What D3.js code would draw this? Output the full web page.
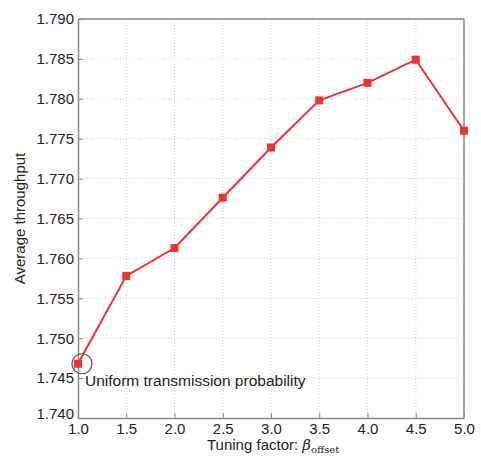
<!DOCTYPE html>
<html>
<head>
<meta charset="utf-8">
<script src="https://cdn.jsdelivr.net/npm/d3@7"></script>
<style>
body { margin: 0; background: #fff; }
svg text { font-family: "Liberation Sans", Arial, sans-serif; fill: #222; }
</style>
</head>
<body>
<svg id="chart" width="481" height="457"></svg>
<script>
var xValues = [1.0, 1.5, 2.0, 2.5, 3.0, 3.5, 4.0, 4.5, 5.0];
var throughput = [1.7468, 1.7578, 1.7613, 1.7676, 1.7739, 1.7798, 1.7820, 1.7849, 1.7760];
var xTicks = [1.0, 1.5, 2.0, 2.5, 3.0, 3.5, 4.0, 4.5, 5.0];
var yTicks = [1.740, 1.745, 1.750, 1.755, 1.760, 1.765, 1.770, 1.775, 1.780, 1.785, 1.790];
var annotation = "Uniform transmission probability";

var svg = d3.select("#chart"),
	margin = {top: 19, right: 17, bottom: 39, left: 78},
	width = 481 - margin.left - margin.right,
	height = 457 - margin.top - margin.bottom,
	g = svg.append("g").attr("transform", "translate(" + margin.left + "," + margin.top + ")");

var x = d3.scaleLinear().domain([1, 5]).range([0, width]),
	y = d3.scaleLinear().domain([1.74, 1.79]).range([height, 0]);

// grid
g.append("g").selectAll("line").data(xTicks.slice(1, -1)).enter().append("line")
	.attr("x1", function(d) { return x(d); }).attr("x2", function(d) { return x(d); })
	.attr("y1", 0).attr("y2", height)
	.attr("stroke", "#ccc").attr("stroke-dasharray", "1,2");
g.append("g").selectAll("line").data(yTicks.slice(1, -1)).enter().append("line")
	.attr("y1", function(d) { return y(d); }).attr("y2", function(d) { return y(d); })
	.attr("x1", 0).attr("x2", width)
	.attr("stroke", "#ccc").attr("stroke-dasharray", "1,2");

// axes
var xAxis = g.append("g")
	.attr("transform", "translate(0," + height + ")")
	.call(d3.axisBottom(x).tickValues(xTicks).tickFormat(d3.format(".1f")).tickSizeInner(-5).tickSizeOuter(0).tickPadding(4));
var yAxis = g.append("g")
	.call(d3.axisLeft(y).tickValues(yTicks).tickFormat(d3.format(".3f")).tickSizeInner(-5).tickSizeOuter(0).tickPadding(4));
[xAxis, yAxis].forEach(function(a) {
	a.select(".domain").attr("stroke", "#888").attr("stroke-width", 1.5);
	a.selectAll(".tick line").attr("stroke", "#888");
	a.selectAll(".tick text").style("font-size", "15px").attr("fill", "#222");
});
xAxis.selectAll(".tick text").attr("dy", "0.8em");
// lowest y label sits just above the 1.0 label, as in the original
yAxis.selectAll(".tick text").filter(function(d) { return d === yTicks[0]; }).attr("dy", "0.05em");

// frame top / right
g.append("line").attr("x1", 0).attr("x2", width).attr("y1", 0).attr("y2", 0).attr("stroke", "#888").attr("stroke-width", 1.5);
g.append("line").attr("x1", width).attr("x2", width).attr("y1", 0).attr("y2", height).attr("stroke", "#888").attr("stroke-width", 1.5);

// data line
var line = d3.line()
	.x(function(d, i) { return x(xValues[i]); })
	.y(function(d) { return y(d); });

g.append("path")
	.datum(throughput)
	.attr("fill", "none")
	.attr("stroke", "#ee3333")
	.attr("stroke-width", 2)
	.attr("d", line);

g.selectAll(".pt").data(throughput).enter().append("rect")
	.attr("class", "pt")
	.attr("x", function(d, i) { return x(xValues[i]) - 4; })
	.attr("y", function(d) { return y(d) - 4; })
	.attr("width", 8).attr("height", 8)
	.attr("fill", "#ee3333");

// annotation
g.append("circle")
	.attr("cx", x(xValues[0]) + 4)
	.attr("cy", y(throughput[0]))
	.attr("r", 10)
	.attr("fill", "none")
	.attr("stroke", "#555")
	.attr("stroke-width", 1.2);
g.append("text")
	.attr("x", x(xValues[0]) + 7)
	.attr("y", y(throughput[0]) + 22)
	.style("font-size", "15.5px")
	.text(annotation);

// labels
svg.append("text")
	.attr("transform", "translate(25," + (margin.top + height / 2) + ") rotate(-90)")
	.attr("text-anchor", "middle")
	.style("font-size", "15px")
	.text("Average throughput");

var xl = svg.append("text")
	.attr("x", 207)
	.attr("y", 450)
	.style("font-size", "15px");
xl.append("tspan").text("Tuning factor: ");
xl.append("tspan").style("font-family", "'DejaVu Serif', serif").style("font-style", "italic").text("β");
xl.append("tspan").attr("dy", 3).style("font-family", "'DejaVu Serif', serif").style("font-size", "10px").text("offset");
</script>
</body>
</html>
